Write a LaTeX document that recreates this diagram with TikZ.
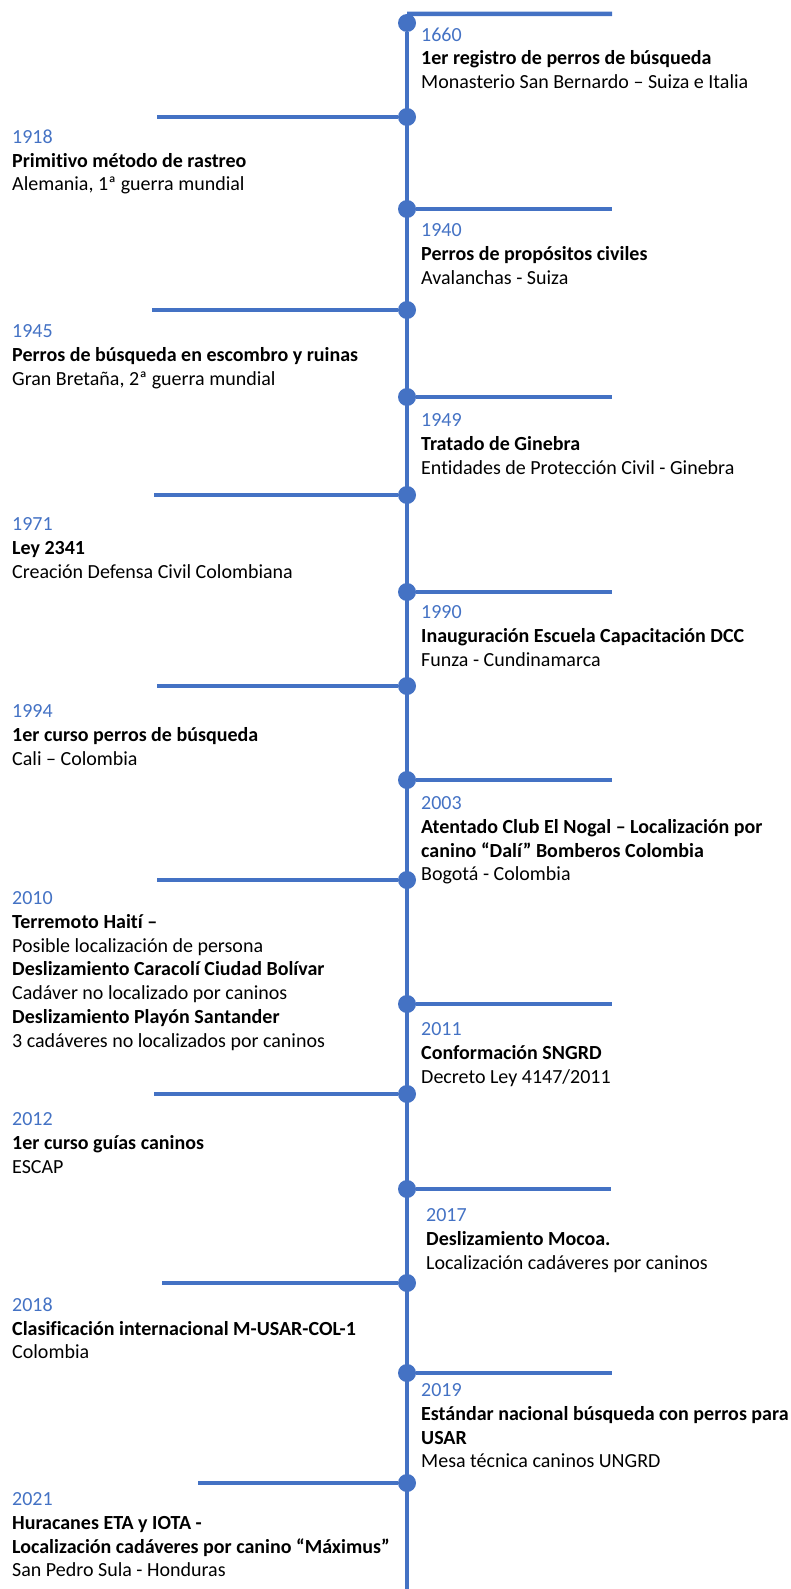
\documentclass[tikz,border=0pt]{standalone}
\usepackage{fontspec}
\setmainfont{Carlito}[Ligatures={NoCommon}]
\definecolor{lineblue}{HTML}{4472C4}
\newcommand{\yr}[1]{\textcolor{lineblue}{#1}}

\begin{document}
\begin{tikzpicture}[x=1pt,y=-1pt,
  dot/.style={circle,fill=lineblue,inner sep=0pt,minimum size=18pt},
  bar/.style={draw=lineblue,line width=4.5pt},
  event/.style={anchor=north west,align=left,inner sep=0pt,yshift=13.6pt,
    font=\fontsize{20}{23.8}\selectfont}]
  \useasboundingbox (0,0) rectangle (791,1589);
  % dots on the spine
  \node[dot] (d1660) at (407,23) {};
  \node[dot] (d1918) at (407,117) {};
  \node[dot] (d1940) at (407,209) {};
  \node[dot] (d1945) at (407,310) {};
  \node[dot] (d1949) at (407,397) {};
  \node[dot] (d1971) at (407,495) {};
  \node[dot] (d1990) at (407,592) {};
  \node[dot] (d1994) at (407,686) {};
  \node[dot] (d2003) at (407,780) {};
  \node[dot] (d2010) at (407,880) {};
  \node[dot] (d2011) at (407,1004) {};
  \node[dot] (d2012) at (407,1094) {};
  \node[dot] (d2017) at (407,1189) {};
  \node[dot] (d2018) at (407,1283) {};
  \node[dot] (d2019) at (407,1373) {};
  \node[dot] (d2021) at (407,1483) {};
  \coordinate (bot) at (407,1595);
  % free ends of the ticks
  \coordinate (e1660) at (612,14);
  \coordinate (e1918) at (157,117);
  \coordinate (e1940) at (612,209);
  \coordinate (e1945) at (152,310);
  \coordinate (e1949) at (612,397);
  \coordinate (e1971) at (154,495);
  \coordinate (e1990) at (612,592);
  \coordinate (e1994) at (157,686);
  \coordinate (e2003) at (612,780);
  \coordinate (e2010) at (157,880);
  \coordinate (e2011) at (612,1004);
  \coordinate (e2012) at (154,1094);
  \coordinate (e2017) at (611,1189);
  \coordinate (e2018) at (162,1283);
  \coordinate (e2019) at (612,1373);
  \coordinate (e2021) at (198,1483);
  \draw[bar] (d1660) -- (bot);
  \draw[bar] (d1660.north) -- (e1660);
  \foreach \y in {1918,1940,1945,1949,1971,1990,1994,2003,2010,2011,2012,2017,2018,2019,2021}
    \draw[bar] (d\y) -- (e\y);
  % texts, right side
  \node[event] (t1660) at (421,41) {\yr{1660}\\\textbf{1er registro de perros de búsqueda}\\Monasterio San Bernardo – Suiza e Italia};
  \node[event] (t1940) at (421,237) {\yr{1940}\\\textbf{Perros de propósitos civiles}\\Avalanchas - Suiza};
  \node[event] (t1949) at (421,427) {\yr{1949}\\\textbf{Tratado de Ginebra}\\Entidades de Protección Civil - Ginebra};
  \node[event] (t1990) at (421,619) {\yr{1990}\\\textbf{Inauguración Escuela Capacitación DCC}\\Funza - Cundinamarca};
  \node[event] (t2003) at (421,810) {\yr{2003}\\\textbf{Atentado Club El Nogal – Localización por}\\\textbf{canino “Dalí” Bomberos Colombia}\\Bogotá - Colombia};
  \node[event] (t2011) at (421,1036) {\yr{2011}\\\textbf{Conformación SNGRD}\\Decreto Ley 4147/2011};
  \node[event] (t2017) at (426,1222) {\yr{2017}\\\textbf{Deslizamiento Mocoa.}\\Localización cadáveres por caninos};
  \node[event] (t2019) at (421,1397) {\yr{2019}\\\textbf{Estándar nacional búsqueda con perros para}\\\textbf{USAR}\\Mesa técnica caninos UNGRD};
  % texts, left side
  \node[event] (t1918) at (12,143) {\yr{1918}\\\textbf{Primitivo método de rastreo}\\Alemania, 1ª guerra mundial};
  \node[event] (t1945) at (12,338) {\yr{1945}\\\textbf{Perros de búsqueda en escombro y ruinas}\\Gran Bretaña, 2ª guerra mundial};
  \node[event] (t1971) at (12,531) {\yr{1971}\\\textbf{Ley 2341}\\Creación Defensa Civil Colombiana};
  \node[event] (t1994) at (12,718) {\yr{1994}\\\textbf{1er curso perros de búsqueda}\\Cali – Colombia};
  \node[event] (t2010) at (12,905) {\yr{2010}\\\textbf{Terremoto Haití –}\\Posible localización de persona\\\textbf{Deslizamiento Caracolí Ciudad Bolívar}\\Cadáver no localizado por caninos\\\textbf{Deslizamiento Playón Santander}\\3 cadáveres no localizados por caninos};
  \node[event] (t2012) at (12,1126) {\yr{2012}\\\textbf{1er curso guías caninos}\\ESCAP};
  \node[event] (t2018) at (12,1311) {\yr{2018}\\\textbf{Clasificación internacional M-USAR-COL-1}\\Colombia};
  \node[event] (t2021) at (12,1506) {\yr{2021}\\\textbf{Huracanes ETA y IOTA -}\\\textbf{Localización cadáveres por canino “Máximus”}\\San Pedro Sula - Honduras};
\end{tikzpicture}
\end{document}
